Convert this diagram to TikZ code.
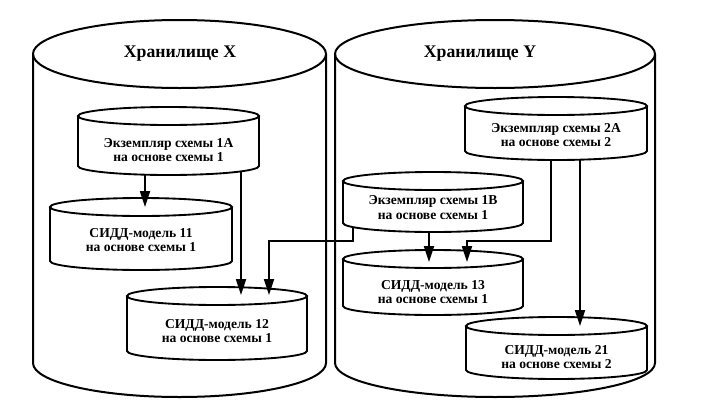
\documentclass[tikz,border=0pt]{standalone}
\usepackage{fontspec}
\setmainfont{Liberation Serif}
\usetikzlibrary{arrows.meta}
\begin{document}
\begin{tikzpicture}[x=0.75pt,y=0.75pt,
  bigline/.style={line width=1.5pt},
  cylline/.style={line width=1.4pt},
  conn/.style={line width=1.3pt,-{Triangle[length=12pt,width=7.5pt]}},
  title/.style={font=\fontsize{13.3}{15}\selectfont\bfseries,inner sep=0pt},
  lbl/.style={font=\fontsize{10.2}{10.6}\selectfont\bfseries,align=center,inner sep=0pt}]
\useasboundingbox (0,0) rectangle (701,-411);
% cylinder macro: cx, ytop, ylowest, rx, ry, style
\newcommand\mycyl[6]{%
  \draw[#6] (#1-#4,{-(#2+#5)}) -- (#1-#4,{-(#3-#5)})
     arc[start angle=180,end angle=360,x radius=#4,y radius=#5]
     -- (#1+#4,{-(#2+#5)});
  \draw[#6] (#1,{-(#2+#5)}) ellipse[x radius=#4,y radius=#5];
}
% storages
\mycyl{179.5}{20}{397}{146.5}{34}{bigline}
\mycyl{495}{20}{397}{160}{34}{bigline}
\node[title] (hx) at (180,-54) {Хранилище X};
\node[title] (hy) at (480,-54) {Хранилище Y};
% small cylinders
\mycyl{168.5}{107}{175}{90.5}{9}{cylline}
\node[lbl] (s1a) at (168.5,-150) {Экземпляр схемы 1A\\на основе схемы 1};
\mycyl{141}{198}{270}{91}{9}{cylline}
\node[lbl] (m11) at (141,-240) {СИДД-модель 11\\на основе схемы 1};
\mycyl{217}{287}{360}{90}{9}{cylline}
\node[lbl] (m12) at (217,-331) {СИДД-модель 12\\на основе схемы 1};
\mycyl{433}{172}{232}{90}{9}{cylline}
\node[lbl] (s1b) at (433,-207.5) {Экземпляр схемы 1B\\на основе схемы 1};
\mycyl{556}{97}{160}{91}{9}{cylline}
\node[lbl] (s2a) at (556,-135) {Экземпляр схемы 2A\\на основе схемы 2};
\mycyl{433}{250}{315}{90}{9}{cylline}
\node[lbl] (m13) at (433,-292) {СИДД-модель 13\\на основе схемы 1};
\mycyl{556.5}{317}{379}{90.5}{9}{cylline}
\node[lbl] (m21) at (556.5,-357) {СИДД-модель 21\\на основе схемы 2};
% connector end points
\coordinate (a1s) at (145,-174.7);
\coordinate (a1e) at (145,-207);
\coordinate (a2s) at (241,-171.4);
\coordinate (a2e) at (241,-295);
\coordinate (a3s) at (353,-227);
\coordinate (a3e) at (269,-295);
\coordinate (a4s) at (429,-231.8);
\coordinate (a4e) at (429,-262);
\coordinate (a5s) at (551,-159.9);
\coordinate (a5e) at (467,-262);
\coordinate (a6s) at (580,-159.7);
\coordinate (a6e) at (580,-326);
% connectors
\draw[conn] (a1s) -- (a1e);
\draw[conn] (a2s) -- (a2e);
\draw[conn] (a3s) |- (269,-241) -- (a3e);
\draw[conn] (a4s) -- (a4e);
\draw[conn] (a5s) |- (467,-241) -- (a5e);
\draw[conn] (a6s) -- (a6e);
\end{tikzpicture}
\end{document}
